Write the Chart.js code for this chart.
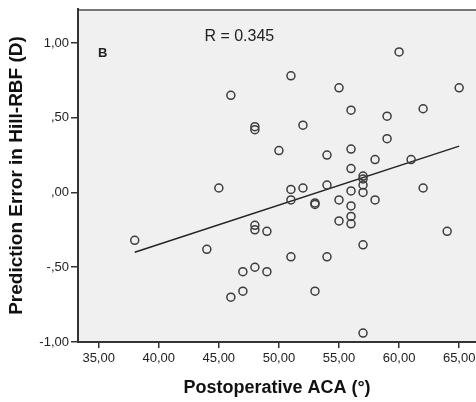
<!DOCTYPE html>
<html>
<head>
<meta charset="utf-8">
<script src="https://cdn.jsdelivr.net/npm/chart.js@4"></script>
<style>
  body { margin: 0; background: #fff; }
  #wrap { width: 476px; height: 402px; }
</style>
</head>
<body>
<div id="wrap"><canvas id="plot" width="476" height="402"></canvas></div>
<script>
// Postoperative ACA (deg) vs prediction error (D)
const acaValues = [
    38, 44, 45, 46, 46, 47, 47, 48, 48, 48, 48, 48, 49, 49, 50,
    51, 51, 51, 51, 52, 52, 53, 53, 53, 54, 54, 54, 55, 55, 55,
    56, 56, 56, 56, 56, 56, 56, 57, 57, 57, 57, 57, 57,
    58, 58, 59, 59, 60, 61, 62, 62, 64, 65
];
const errorValues = [
    -0.32, -0.38, 0.03, 0.65, -0.70, -0.53, -0.66, 0.44, 0.42, -0.22, -0.25, -0.50, -0.26, -0.53, 0.28,
    0.78, 0.02, -0.05, -0.43, 0.45, 0.03, -0.07, -0.08, -0.66, 0.25, 0.05, -0.43, 0.70, -0.05, -0.19,
    0.55, 0.29, 0.16, 0.01, -0.09, -0.16, -0.21, 0.11, 0.09, 0.05, 0.00, -0.35, -0.94,
    0.22, -0.05, 0.51, 0.36, 0.94, 0.22, 0.56, 0.03, -0.26, 0.70
];

// fit line end points as drawn
const fitX = [38, 65];
const fitY = [-0.40, 0.31];

const xTickValues = [35, 40, 45, 50, 55, 60, 65];
const xTickLabels = ["35,00", "40,00", "45,00", "50,00", "55,00", "60,00", "65,00"];
const yTickValues = [-1, -0.5, 0, 0.5, 1];
const yTickLabels = ["-1,00", "-,50", ",00", ",50", "1,00"];

const rText = "R = 0.345";
const panelText = "B";

const FONT = "Arial, 'Liberation Sans', sans-serif";

const scatterData = acaValues.map((x, i) => ({ x: x, y: errorValues[i] }));
const fitData = fitX.map((x, i) => ({ x: x, y: fitY[i] }));

// grey plot area, top frame and the in-plot labels
const framePlugin = {
    id: 'frame',
    beforeDraw(chart) {
        const { ctx, chartArea: a } = chart;
        ctx.save();
        ctx.fillStyle = '#f0f0f0';
        ctx.fillRect(a.left, a.top, a.right - a.left, a.bottom - a.top);
        ctx.strokeStyle = '#777';
        ctx.lineWidth = 2;
        ctx.beginPath();
        ctx.moveTo(a.left, a.top + 1);
        ctx.lineTo(a.right, a.top + 1);
        ctx.stroke();
        ctx.restore();
    },
    afterDatasetsDraw(chart) {
        const { ctx, scales: { x, y } } = chart;
        ctx.save();
        ctx.fillStyle = '#222';
        ctx.textBaseline = 'middle';
        ctx.textAlign = 'left';
        ctx.font = '16px ' + FONT;
        ctx.fillText(rText, x.getPixelForValue(43.8), y.getPixelForValue(1.04));
        ctx.font = 'bold 13px ' + FONT;
        ctx.fillText(panelText, x.getPixelForValue(34.95), y.getPixelForValue(0.93));
        ctx.restore();
    }
};

new Chart(document.getElementById('plot'), {
    type: 'scatter',
    data: {
        datasets: [
            {
                data: scatterData,
                pointStyle: 'circle',
                pointRadius: 4,
                pointHoverRadius: 4,
                borderWidth: 1.5,
                borderColor: '#3c3c3c',
                backgroundColor: 'rgba(0,0,0,0)',
                clip: false
            },
            {
                type: 'line',
                data: fitData,
                borderColor: '#222',
                borderWidth: 1.5,
                pointRadius: 0,
                fill: false
            }
        ]
    },
    options: {
        responsive: false,
        animation: false,
        layout: { autoPadding: false, padding: { top: 9, right: 0, left: 0, bottom: 0 } },
        plugins: {
            legend: { display: false },
            tooltip: { enabled: false }
        },
        scales: {
            x: {
                type: 'linear',
                min: 33.28,
                max: 66.4,
                afterBuildTicks: (s) => { s.ticks = xTickValues.map(v => ({ value: v })); },
                afterFit: (s) => { s.height = 60; s.paddingRight = 0; s.paddingLeft = 0; },
                border: { display: true, color: '#333', width: 2 },
                grid: { drawOnChartArea: false, drawTicks: true, tickLength: 6, color: '#333', lineWidth: 1.5 },
                ticks: {
                    padding: 3,
                    color: '#222',
                    font: { family: FONT, size: 13 },
                    maxRotation: 0,
                    autoSkip: false,
                    callback: (v) => xTickLabels[xTickValues.indexOf(v)]
                },
                title: {
                    display: true,
                    text: 'Postoperative ACA (°)',
                    color: '#111',
                    font: { family: FONT, size: 18, weight: 'bold' },
                    padding: { top: 3, bottom: 3 }
                }
            },
            y: {
                type: 'linear',
                min: -1,
                max: 1.227,
                afterBuildTicks: (s) => { s.ticks = yTickValues.map(v => ({ value: v })); },
                afterFit: (s) => { s.width = 78; s.paddingTop = 0; s.paddingBottom = 0; },
                border: { display: true, color: '#333', width: 2 },
                grid: { drawOnChartArea: false, drawTicks: true, tickLength: 7, color: '#333', lineWidth: 1.5 },
                ticks: {
                    padding: 2,
                    color: '#222',
                    font: { family: FONT, size: 13 },
                    autoSkip: false,
                    callback: (v) => yTickLabels[yTickValues.indexOf(v)]
                },
                title: {
                    display: true,
                    text: 'Prediction Error in Hill-RBF (D)',
                    color: '#111',
                    font: { family: FONT, size: 19, weight: 'bold' },
                    padding: { top: 5, bottom: 4 }
                }
            }
        }
    },
    plugins: [framePlugin]
});
</script>
</body>
</html>
